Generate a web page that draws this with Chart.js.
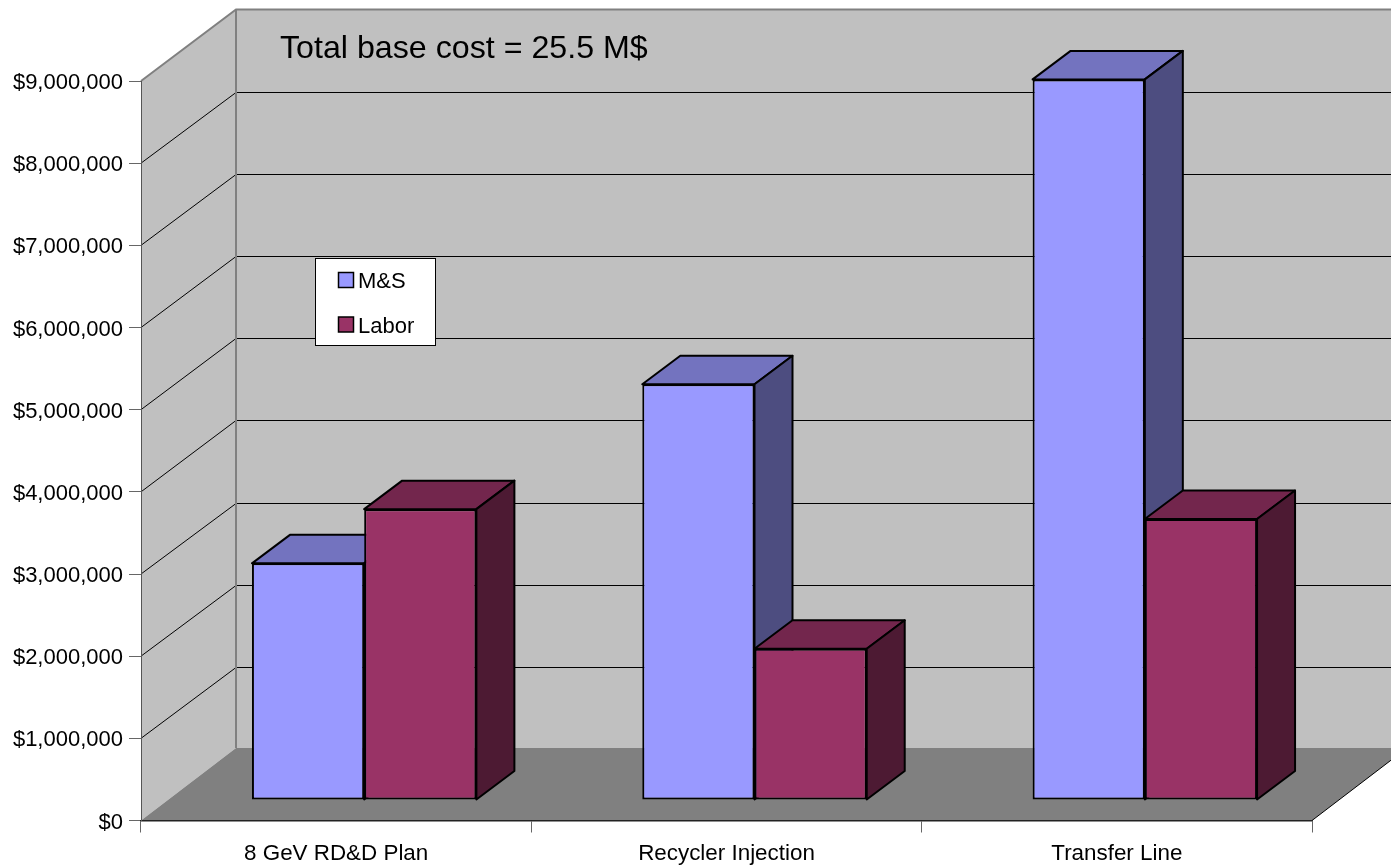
<!DOCTYPE html>
<html>
<head>
<meta charset="utf-8">
<title>Base cost</title>
<script src="https://cdn.jsdelivr.net/npm/chart.js@4/dist/chart.umd.min.js"></script>
<style>
  html, body { margin: 0; padding: 0; background: #fff; overflow: hidden; }
  canvas { display: block; }
</style>
</head>
<body>
<canvas id="costChart" width="1391" height="866"></canvas>
<script>
const categories = ["8 GeV RD&D Plan", "Recycler Injection", "Transfer Line"];
const msValues = [2880000, 5060000, 8770000];
const laborValues = [3540000, 1840000, 3420000];
const yTickLabels = ["$0", "$1,000,000", "$2,000,000", "$3,000,000", "$4,000,000",
  "$5,000,000", "$6,000,000", "$7,000,000", "$8,000,000", "$9,000,000"];
const totalNote = "Total base cost = 25.5 M$";
const msColors = { front: "#9999FF", top: "#7373BF", side: "#4D4D80" };
const laborColors = { front: "#993366", top: "#73264D", side: "#4D1A33" };

const FONT = '"Liberation Sans", Arial, sans-serif';
// depth of the whole plot box, and of a single bar
const WALL_DX = 95, WALL_DY = -71.5, FLOOR_DY = -72.5;
const BAR_DX = 38, BAR_DY = -28.5;
// how far the bars sit inside the box
const SHIFT_X = 28, SHIFT_Y = -20.5;

function poly(ctx, pts, fill, stroke, lw) {
  ctx.beginPath();
  pts.forEach((p, i) => i ? ctx.lineTo(p[0], p[1]) : ctx.moveTo(p[0], p[1]));
  ctx.closePath();
  if (fill) { ctx.fillStyle = fill; ctx.fill(); }
  if (stroke) { ctx.strokeStyle = stroke; ctx.lineWidth = lw; ctx.stroke(); }
}

// side wall, back wall, floor and the grid lines running over them
const wallsPlugin = {
  id: "walls",
  beforeDraw(chart) {
    const ctx = chart.ctx;
    const { left: L, right: R, top: T, bottom: B } = chart.chartArea;
    const y = chart.scales.y;
    ctx.save();
    poly(ctx, [[L + WALL_DX, T + WALL_DY], [R + WALL_DX, T + WALL_DY], [R + WALL_DX, B + FLOOR_DY], [L + WALL_DX, B + FLOOR_DY]], "#C0C0C0");
    poly(ctx, [[L, T], [L + WALL_DX, T + WALL_DY], [L + WALL_DX, B + FLOOR_DY], [L, B]], "#C0C0C0");
    poly(ctx, [[L, B], [L + WALL_DX, B + FLOOR_DY], [R + WALL_DX, B + FLOOR_DY], [R, B]], "#808080");

    ctx.strokeStyle = "#000";
    ctx.lineWidth = 1;
    y.ticks.forEach(t => {
      const py = y.getPixelForValue(t.value);
      if (t.value === 0 || t.value === y.max) return;
      const backY = Math.round(py + WALL_DY) + 0.5;
      ctx.beginPath();
      ctx.moveTo(L, py);
      ctx.lineTo(L + WALL_DX, backY);
      ctx.lineTo(R + WALL_DX, backY);
      ctx.stroke();
    });

    // wall edges
    ctx.strokeStyle = "#808080";
    ctx.lineWidth = 2;
    ctx.beginPath();
    ctx.moveTo(L, T);
    ctx.lineTo(L + WALL_DX, T + WALL_DY);
    ctx.lineTo(R + WALL_DX, T + WALL_DY);
    ctx.moveTo(L + WALL_DX, T + WALL_DY);
    ctx.lineTo(L + WALL_DX, B + FLOOR_DY);
    ctx.stroke();

    ctx.strokeStyle = "#000";
    ctx.lineWidth = 1;
    ctx.beginPath();
    ctx.moveTo(R, B);
    ctx.lineTo(R + WALL_DX, B + FLOOR_DY);
    ctx.stroke();
    ctx.restore();
  }
};

// top and side faces go under the bar fronts, the whole bar layer sits
// part way into the plot box
const barDepthPlugin = {
  id: "barDepth",
  beforeDatasetsDraw(chart) {
    const ctx = chart.ctx;
    ctx.save();
    ctx.translate(SHIFT_X, SHIFT_Y);
    ctx.lineJoin = "round";
    chart.data.datasets.forEach((ds, di) => {
      chart.getDatasetMeta(di).data.forEach(bar => {
        const p = bar.getProps(["x", "y", "base", "width"], true);
        const l = p.x - p.width / 2, r = p.x + p.width / 2;
        poly(ctx, [[l, p.y], [l + BAR_DX, p.y + BAR_DY], [r + BAR_DX, p.y + BAR_DY], [r, p.y]], ds.faces.top, "#000", 2);
        poly(ctx, [[r, p.y], [r + BAR_DX, p.y + BAR_DY], [r + BAR_DX, p.base + BAR_DY], [r, p.base]], ds.faces.side, "#000", 2);
      });
    });
  },
  afterDatasetsDraw(chart) {
    chart.ctx.restore();
  }
};

// legend box and the total, both placed inside the plot
const notesPlugin = {
  id: "notes",
  afterDraw(chart) {
    const ctx = chart.ctx;
    ctx.save();
    ctx.fillStyle = "#000";
    ctx.textBaseline = "alphabetic";
    ctx.textAlign = "left";
    ctx.font = "32.2px " + FONT;
    ctx.fillText(totalNote, 280, 58);

    ctx.fillStyle = "#fff";
    ctx.fillRect(315.5, 258.5, 120, 87);
    ctx.strokeStyle = "#000";
    ctx.lineWidth = 1;
    ctx.strokeRect(315.5, 258.5, 120, 87);
    chart.data.datasets.forEach((ds, i) => {
      const rowY = 272 + i * 44.5;
      ctx.fillStyle = ds.faces.front;
      ctx.fillRect(338.5, rowY + 0.5, 15, 15);
      ctx.strokeStyle = "#000";
      ctx.lineWidth = 1.5;
      ctx.strokeRect(338.5, rowY + 0.5, 15, 15);
      ctx.fillStyle = "#000";
      ctx.font = "22px " + FONT;
      ctx.fillText(ds.label, 358, rowY + 16);
    });
    ctx.restore();
  }
};

new Chart(document.getElementById("costChart"), {
  type: "bar",
  data: {
    labels: categories,
    datasets: [
      { label: "M&S", data: msValues, backgroundColor: msColors.front, faces: msColors,
        borderColor: "#000", borderWidth: 2, borderSkipped: false, clip: false },
      { label: "Labor", data: laborValues, backgroundColor: laborColors.front, faces: laborColors,
        borderColor: "#000", borderWidth: 2, borderSkipped: false, clip: false }
    ]
  },
  plugins: [wallsPlugin, barDepthPlugin, notesPlugin],
  options: {
    responsive: false,
    animation: false,
    events: [],
    layout: { padding: { top: 81, right: 79, left: 0, bottom: 0 } },
    datasets: { bar: { categoryPercentage: 0.575, barPercentage: 1 } },
    plugins: { legend: { display: false }, title: { display: false }, tooltip: { enabled: false } },
    scales: {
      x: {
        afterFit(scale) { scale.height = 45.5; },
        grid: { drawOnChartArea: false, color: "#666", tickLength: 12 },
        border: { color: "#222", width: 1.5 },
        ticks: { color: "#000", maxRotation: 0, autoSkip: false, padding: 8, font: { family: FONT, size: 22.4 } }
      },
      y: {
        min: 0,
        max: 9000000,
        afterFit(scale) { scale.width = 141; },
        grid: { drawOnChartArea: false, color: "#666", tickLength: 12 },
        border: { color: "#555", width: 1 },
        ticks: {
          stepSize: 1000000,
          color: "#000",
          padding: 6,
          labelOffset: 2,
          font: { family: FONT, size: 22 },
          callback: (value, index) => yTickLabels[index]
        }
      }
    }
  }
});
</script>
</body>
</html>
